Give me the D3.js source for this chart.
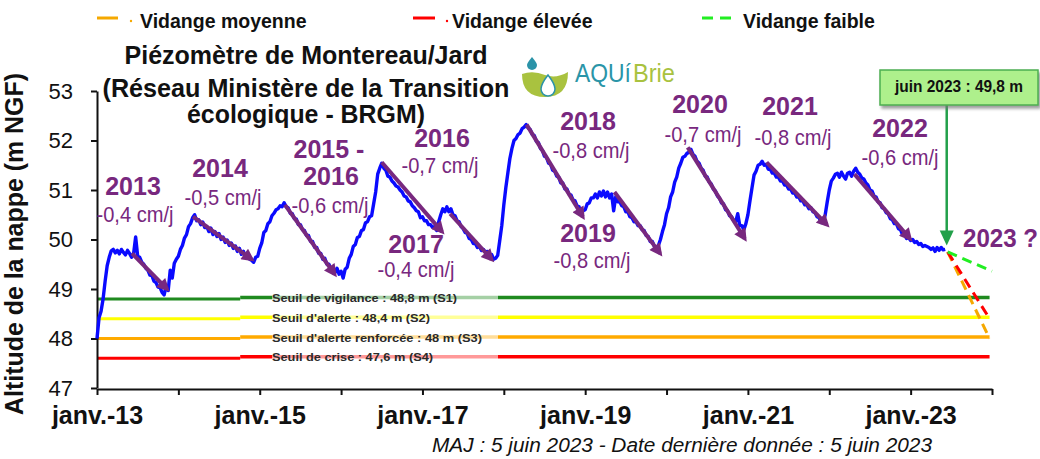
<!DOCTYPE html>
<html><head><meta charset="utf-8">
<script src="https://cdn.jsdelivr.net/npm/d3@7"></script>
<style>
body{margin:0;background:#fff}
svg{display:block}
text{font-family:"Liberation Sans",Arial,Helvetica,sans-serif}
</style>
</head><body>
<svg id="chart" width="1040" height="459"></svg>
<script>
// Groundwater level at Montereau/Jard, sampled 40 times per year (m NGF)
const levels2013 = [48.00,48.42,48.55,48.80,49.16,49.47,49.64,49.77,49.80,49.73,
 49.78,49.71,49.80,49.74,49.69,49.78,49.72,49.64,49.72,50.05,
 49.66,49.64,49.54,49.50,49.42,49.38,49.28,49.27,49.16,49.13,
 49.04,49.03,48.93,48.88,49.06,48.97,49.38,49.22,49.52,49.60];
const levels2014 = [49.66,49.80,49.88,50.03,50.10,50.26,50.32,50.44,50.50,50.38,
 50.40,50.30,50.35,50.24,50.26,50.16,50.23,50.10,50.16,50.06,
 50.12,50.00,50.05,49.94,49.99,49.88,49.93,49.82,49.87,49.76,
 49.82,49.70,49.76,49.64,49.72,49.60,49.58,49.54,49.64,49.66];
const levels2015 = [49.82,49.93,50.14,50.18,50.32,50.36,50.48,50.53,50.60,50.62,
 50.68,50.66,50.74,50.66,50.64,50.53,50.52,50.42,50.41,50.30,
 50.30,50.20,50.18,50.08,50.08,49.96,49.96,49.84,49.84,49.72,
 49.72,49.60,49.62,49.50,49.50,49.40,49.42,49.33,49.42,49.30];
const levels2016 = [49.36,49.22,49.40,49.44,49.62,49.70,49.86,49.90,50.04,50.06,
 50.18,50.20,50.34,50.36,50.46,50.48,50.72,50.96,51.32,51.44,
 51.54,51.44,51.40,51.28,51.26,51.18,51.14,51.08,51.06,51.00,
 50.96,50.88,50.86,50.78,50.76,50.68,50.64,50.58,50.56,50.44];
const levels2017 = [50.46,50.38,50.38,50.30,50.30,50.24,50.26,50.18,50.36,50.50,
 50.62,50.56,50.66,50.56,50.62,50.50,50.48,50.38,50.36,50.26,
 50.22,50.14,50.12,50.02,50.00,49.92,49.92,49.84,49.86,49.78,
 49.80,49.74,49.76,49.70,49.70,49.60,49.62,49.68,49.98,50.28];
const levels2018 = [50.70,51.05,51.35,51.64,51.84,52.00,52.04,52.12,52.15,52.24,
 52.27,52.32,52.25,52.22,52.12,52.10,51.98,51.96,51.84,51.80,
 51.68,51.66,51.54,51.52,51.40,51.38,51.28,51.26,51.14,51.14,
 51.02,51.02,50.92,50.90,50.80,50.78,50.68,50.66,50.56,50.58];
const levels2019 = [50.60,50.72,50.74,50.84,50.84,50.92,50.84,50.96,50.88,50.98,
 50.86,50.96,50.84,50.92,50.58,50.86,50.76,50.76,50.68,50.66,
 50.56,50.56,50.46,50.44,50.36,50.36,50.28,50.28,50.20,50.18,
 50.08,50.06,49.96,49.96,49.86,49.82,49.88,50.00,50.16,50.30];
const levels2020 = [50.52,50.64,50.86,50.96,51.16,51.26,51.44,51.54,51.66,51.68,
 51.74,51.76,51.82,51.72,51.68,51.58,51.54,51.44,51.40,51.28,
 51.26,51.16,51.12,51.02,50.98,50.88,50.84,50.74,50.72,50.60,
 50.58,50.48,50.46,50.38,50.36,50.52,50.28,50.28,50.20,50.32];
const levels2021 = [50.50,50.78,51.04,51.30,51.38,51.50,51.52,51.58,51.50,51.52,
 51.42,51.42,51.34,51.34,51.26,51.26,51.18,51.18,51.10,51.10,
 51.02,51.02,50.94,50.94,50.86,50.86,50.78,50.78,50.70,50.70,
 50.62,50.64,50.56,50.54,50.46,50.44,50.34,50.34,50.50,50.76];
const levels2022 = [51.00,51.18,51.24,51.32,51.34,51.26,51.36,51.28,51.22,51.34,
 51.36,51.28,51.38,51.44,51.36,51.32,51.24,51.22,51.14,51.10,
 51.00,50.98,50.88,50.86,50.76,50.74,50.64,50.62,50.54,50.52,
 50.42,50.40,50.32,50.32,50.22,50.20,50.10,50.10,50.02,50.04];
const levels2023 = [49.98,50.00,49.94,49.96,49.90,49.92,49.86,49.88,49.86,49.84,
 49.80,49.83,49.76,49.84,49.78,49.84,49.79,49.80];
const firstYear = 2013;
const samplesPerYear = 40;

// Recession trends: [start year, start level, end year, end level]
const trendYears = ["2013", "2014", "2015 -|2016", "2016", "2017", "2018", "2019", "2020", "2021", "2022"];
const trendRates = ["-0,4 cm/j", "-0,5 cm/j", "-0,6 cm/j", "-0,7 cm/j", "-0,4 cm/j", "-0,8 cm/j", "-0,8 cm/j", "-0,7 cm/j", "-0,8 cm/j", "-0,6 cm/j"];
const trendSegments = [
  [2013.43, 49.72, 2013.86, 49.00],
  [2014.18, 50.46, 2014.90, 49.60],
  [2015.31, 50.70, 2015.92, 49.30],
  [2016.50, 51.56, 2017.24, 50.16],
  [2017.34, 50.52, 2017.85, 49.60],
  [2018.28, 52.32, 2018.97, 50.46],
  [2019.36, 50.96, 2019.92, 49.72],
  [2020.26, 51.86, 2020.96, 50.02],
  [2021.23, 51.56, 2021.97, 50.30],
  [2022.31, 51.32, 2022.99, 50.02]
];

// Alert thresholds
const thresholdValues = [48.8, 48.4, 48.0, 47.6];
const thresholdLabels = ["Seuil de vigilance : 48,8 m (S1)", "Seuil d'alerte : 48,4 m (S2)",
  "Seuil d'alerte renforcée : 48 m (S3)", "Seuil de crise : 47,6 m (S4)"];

// 2023 scenarios from the last measurement
const lastMeasure = [2023.425, 49.8];
const scenarioNames = ["Vidange faible", "Vidange moyenne", "Vidange élevée"];
const scenarioEnds = [[2024.0, 49.36], [2023.97, 48.0], [2023.97, 48.4]];

const yTicks = [47, 48, 49, 50, 51, 52, 53];
const xTicks = [2013, 2014, 2015, 2016, 2017, 2018, 2019, 2020, 2021, 2022, 2023, 2024];
const xTickLabels = {2013: "janv.-13", 2015: "janv.-15", 2017: "janv.-17", 2019: "janv.-19", 2021: "janv.-21", 2023: "janv.-23"};

const titleLines = ["Piézomètre de Montereau/Jard", "(Réseau Ministère de la Transition", "écologique - BRGM)"];
const calloutText = "juin 2023 : 49,8 m";
const updateNote = "MAJ : 5 juin 2023 - Date dernière donnée : 5 juin 2023";

// ---- styles & layout ----
const purple = "#78287e";
const thresholdColors = ["#1f8a1f", "#ffff00", "#ffaa00", "#ff0000"];
const thresholdLabelLen = [185, 158, 210, 161];
const scenarioColors = ["#22ee22", "#f5a800", "#ff0000"];
const trendLabelPos = [
  [133, 195, 135, 222], [220, 177, 223, 205], [330, 158, 330, 213], [442, 147, 440, 173],
  [416, 253, 416, 277], [588, 130, 591, 158], [588, 242, 592, 268], [700, 113, 703, 142],
  [790, 115, 793, 145], [900, 137, 900, 165]
];

const svg = d3.select("#chart");
const x = d3.scaleLinear().domain([2013, 2024]).range([97, 992]);
const y = d3.scaleLinear().domain([47, 53]).range([388, 91]);

const defs = svg.append("defs");
defs.append("marker").attr("id", "headPurple")
  .attr("viewBox", "0 0 10 10").attr("refX", 7).attr("refY", 5)
  .attr("markerWidth", 15).attr("markerHeight", 13)
  .attr("markerUnits", "userSpaceOnUse").attr("orient", "auto")
  .append("path").attr("d", "M0,0L10,5L0,10Z").attr("fill", purple);
const sh = defs.append("filter").attr("id", "boxShadow").attr("x", "-10%").attr("y", "-20%").attr("width", "130%").attr("height", "160%");
sh.append("feDropShadow").attr("dx", 2).attr("dy", 3).attr("stdDeviation", 1.6).attr("flood-color", "#777").attr("flood-opacity", 0.7);

// ---- legend ----
const legend = svg.append("g");
const legendItems = [
  {name: scenarioNames[1], color: scenarioColors[1], x0: 97, x1: 118, dot: 131, tx: 140, dash: null},
  {name: scenarioNames[2], color: scenarioColors[2], x0: 413, x1: 435, dot: 447, tx: 452, dash: null},
  {name: scenarioNames[0], color: scenarioColors[0], x0: 702, x1: 734, dot: null, tx: 743, dash: "11,7"}
];
legendItems.forEach(it => {
  legend.append("line").attr("x1", it.x0).attr("x2", it.x1).attr("y1", 18).attr("y2", 18)
    .attr("stroke", it.color).attr("stroke-width", 3).attr("stroke-dasharray", it.dash);
  if (it.dot) legend.append("circle").attr("cx", it.dot).attr("cy", 21).attr("r", 1.2).attr("fill", it.color);
  legend.append("text").attr("x", it.tx).attr("y", 28).attr("font-size", 19.5).attr("font-weight", "bold")
    .attr("fill", "#111").text(it.name);
});

// ---- title ----
const titleBase = [64, 97, 123];
const titleLen = [363, 407, 238];
titleLines.forEach((t, i) => {
  svg.append("text").attr("x", 306).attr("y", titleBase[i]).attr("text-anchor", "middle")
    .attr("font-size", 25).attr("font-weight", "bold").attr("fill", "#111")
    .attr("textLength", titleLen[i]).attr("lengthAdjust", "spacingAndGlyphs").text(t);
});

// ---- logo ----
const logo = svg.append("g");
logo.append("path").attr("d", "M522,74 Q533,70 545,75 Q556,79 568,72 Q568,97 545,97 Q522,97 522,74 Z").attr("fill", "#a9c23f");
logo.append("path").attr("d", "M548,75 Q541,84 541,89 A7,7 0 0 0 555,89 Q555,84 548,75 Z").attr("fill", "#fff").attr("stroke", "#2b93a8").attr("stroke-width", 1.5);
logo.append("path").attr("d", "M532,57 Q527,63 527,65 A5,5 0 0 0 537,65 Q537,63 532,57 Z").attr("fill", "#2b93a8");
const logoWord = logo.append("g").attr("transform", "translate(575,82) scale(1,1.2)");
logoWord.append("text").attr("x", 0).attr("y", 0).attr("font-size", 21)
  .attr("font-family", "Lato, 'Open Sans', sans-serif").attr("font-weight", 300).attr("fill", "#2a95a8")
  .attr("textLength", 56).attr("lengthAdjust", "spacingAndGlyphs").text("AQUí");
logoWord.append("text").attr("x", 58).attr("y", 0).attr("font-size", 21)
  .attr("font-family", "Lato, 'Open Sans', sans-serif").attr("font-weight", 300).attr("fill", "#a9c23f")
  .attr("textLength", 42).attr("lengthAdjust", "spacingAndGlyphs").text("Brie");

// ---- thresholds ----
const thrG = svg.append("g");
const thrSplit = 2014.76;
thresholdValues.forEach((v, i) => {
  thrG.append("line").attr("x1", x(2013)).attr("x2", x(thrSplit)).attr("y1", y(v)).attr("y2", y(v))
    .attr("stroke", thresholdColors[i]).attr("stroke-width", 3);
  thrG.append("line").attr("x1", x(thrSplit)).attr("x2", x(2023.97)).attr("y1", y(v)).attr("y2", y(v))
    .attr("transform", "translate(0,-1.5)")
    .attr("stroke", thresholdColors[i]).attr("stroke-width", 3.5);
  thrG.append("rect").attr("x", 272).attr("y", y(v) - 7).attr("width", 226).attr("height", 12)
    .attr("fill", "#fff").attr("opacity", 0.6);
  thrG.append("text").attr("x", 272).attr("y", y(v) + 3).attr("font-size", 11.5).attr("font-weight", "bold")
    .attr("fill", "#2a2a2a").attr("textLength", thresholdLabelLen[i]).attr("lengthAdjust", "spacingAndGlyphs")
    .text(thresholdLabels[i]);
});

// ---- axes ----
const yAxis = svg.append("g").attr("transform", `translate(${x(2013)},0)`)
  .call(d3.axisLeft(y).tickValues(yTicks).tickSize(6).tickSizeOuter(0).tickPadding(18).tickFormat(d3.format("d")));
yAxis.select(".domain").attr("stroke", "#111").attr("stroke-width", 2);
yAxis.selectAll(".tick line").attr("stroke", "#111").attr("stroke-width", 2);
yAxis.selectAll(".tick text").attr("font-size", 22).attr("fill", "#111").attr("font-family", "'Liberation Sans',Arial,sans-serif");

const xAxis = svg.append("g").attr("transform", `translate(0,${y(47) + 1})`)
  .call(d3.axisBottom(x).tickValues(xTicks).tickSize(6).tickSizeOuter(0).tickPadding(11)
    .tickFormat(d => xTickLabels[d] || ""));
xAxis.select(".domain").attr("stroke", "#111").attr("stroke-width", 2);
xAxis.selectAll(".tick line").attr("stroke", "#111").attr("stroke-width", 2);
xAxis.selectAll(".tick text").attr("font-size", 25).attr("font-weight", "bold").attr("fill", "#111")
  .attr("font-family", "'Liberation Sans',Arial,sans-serif");

svg.append("text").attr("transform", "translate(23,244) rotate(-90)").attr("text-anchor", "middle")
  .attr("font-size", 25).attr("font-weight", "bold").attr("fill", "#111")
  .attr("textLength", 342).attr("lengthAdjust", "spacingAndGlyphs")
  .text("Altitude de la nappe (m NGF)");

// ---- observed levels ----
const yearly = [levels2013, levels2014, levels2015, levels2016, levels2017, levels2018,
  levels2019, levels2020, levels2021, levels2022, levels2023];
const series = yearly.flatMap((vals, k) => vals.map((v, i) => ({t: firstYear + k + i / samplesPerYear, v})));
svg.append("path").datum(series)
  .attr("d", d3.line().x(d => x(d.t)).y(d => y(d.v)))
  .attr("fill", "none").attr("stroke", "#0a0aff").attr("stroke-width", 3.4).attr("stroke-linejoin", "round");

// ---- scenario projections ----
[1, 2, 0].forEach(i => {
  svg.append("line").attr("x1", x(lastMeasure[0] + 0.03)).attr("y1", y(lastMeasure[1] - 0.05))
    .attr("x2", x(scenarioEnds[i][0])).attr("y2", y(scenarioEnds[i][1]))
    .attr("stroke", scenarioColors[i]).attr("stroke-width", 3).attr("stroke-dasharray", "10,6");
});

// ---- recession arrows and labels ----
trendSegments.forEach(s => {
  svg.append("line").attr("x1", x(s[0])).attr("y1", y(s[1])).attr("x2", x(s[2])).attr("y2", y(s[3]))
    .attr("stroke", purple).attr("stroke-width", 4).attr("marker-end", "url(#headPurple)");
});
trendYears.forEach((lab, i) => {
  const p = trendLabelPos[i];
  const parts = lab.split("|");
  if (parts.length === 2) {
    svg.append("text").attr("x", 329).attr("y", 158).attr("text-anchor", "middle").attr("font-size", 25)
      .attr("font-weight", "bold").attr("fill", purple).text(parts[0]);
    svg.append("text").attr("x", 331).attr("y", 185).attr("text-anchor", "middle").attr("font-size", 25)
      .attr("font-weight", "bold").attr("fill", purple).text(parts[1]);
  } else {
    svg.append("text").attr("x", p[0]).attr("y", p[1]).attr("text-anchor", "middle").attr("font-size", 25)
      .attr("font-weight", "bold").attr("fill", purple).text(lab);
  }
  svg.append("text").attr("x", p[2]).attr("y", p[3]).attr("text-anchor", "middle").attr("font-size", 22)
    .attr("fill", purple).attr("textLength", 77).attr("lengthAdjust", "spacingAndGlyphs").text(trendRates[i]);
});

svg.append("text").attr("x", 963).attr("y", 247).attr("font-size", 25).attr("font-weight", "bold")
  .attr("fill", purple).attr("textLength", 75).attr("lengthAdjust", "spacingAndGlyphs").text("2023 ?");

// ---- last value callout ----
const tipX = x(lastMeasure[0]) + 1.5, tipY = y(lastMeasure[1]) - 4;
svg.append("line").attr("x1", tipX).attr("x2", tipX).attr("y1", 105).attr("y2", tipY - 12)
  .attr("stroke", "#22a04a").attr("stroke-width", 2.5);
svg.append("path").attr("d", `M${tipX - 7},${tipY - 15}L${tipX + 7},${tipY - 15}L${tipX},${tipY}Z`).attr("fill", "#22a04a");
svg.append("rect").attr("x", 880).attr("y", 70).attr("width", 158).attr("height", 35)
  .attr("fill", "#aef08c").attr("stroke", "#4caf50").attr("stroke-width", 1.5).attr("filter", "url(#boxShadow)");
svg.append("text").attr("x", 959).attr("y", 92).attr("text-anchor", "middle").attr("font-size", 17)
  .attr("font-weight", "bold").attr("fill", "#111").attr("textLength", 128).attr("lengthAdjust", "spacingAndGlyphs")
  .text(calloutText);

// ---- update note ----
svg.append("text").attr("x", 432).attr("y", 452).attr("font-size", 20).attr("font-style", "italic")
  .attr("fill", "#111").attr("textLength", 500).attr("lengthAdjust", "spacingAndGlyphs").text(updateNote);
</script>
</body></html>
